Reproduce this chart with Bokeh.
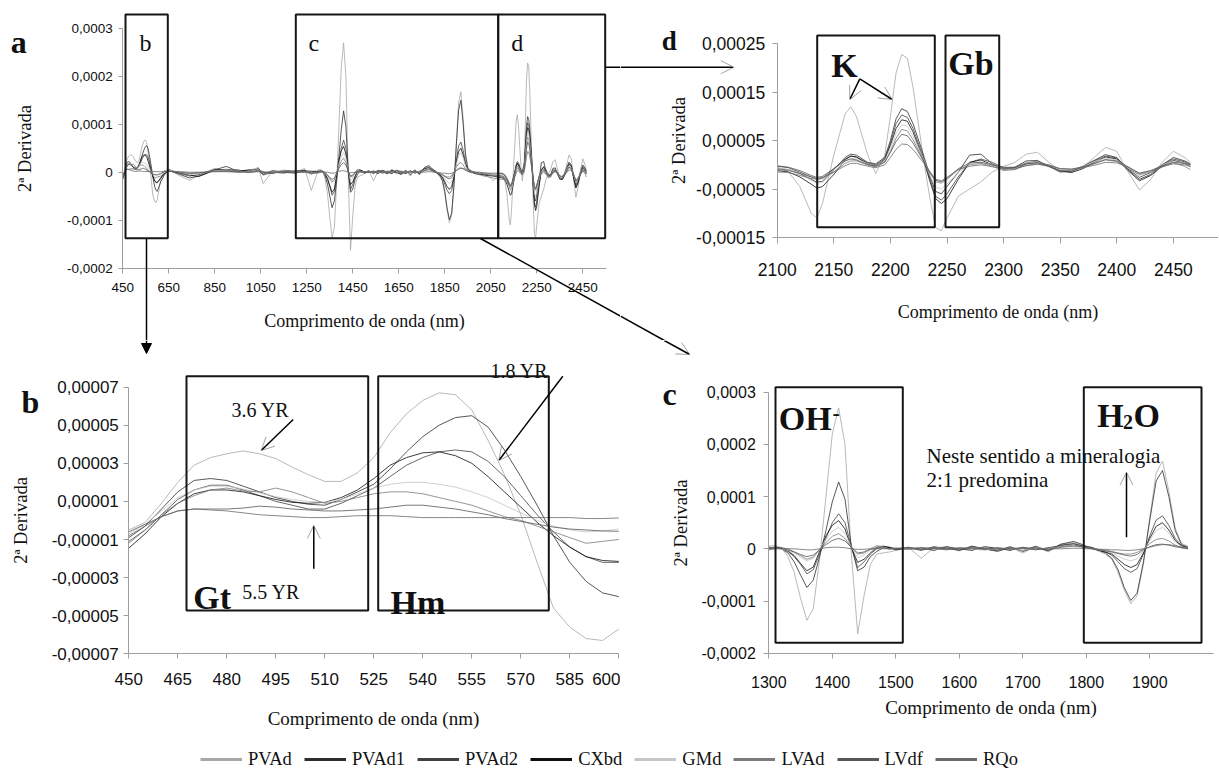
import numpy as np
from bokeh.plotting import figure
from bokeh.layouts import column, row
from bokeh.models import (Range1d, FixedTicker, CustomJSTickFormatter, BoxAnnotation,
                          Label, Arrow, OpenHead, NormalHead, Legend, LegendItem)
from bokeh.embed import file_html
from bokeh.resources import INLINE

# ---------------------------------------------------------------- data
SERIES = ["PVAd", "PVAd1", "PVAd2", "CXbd", "GMd", "LVAd", "LVdf", "RQo"]
SCALE = 1e-5  # all series values below are in units of 1e-5

# wavelengths (nm) of the sampled regions
WL_B = [450, 455, 460, 465, 470, 475, 480, 485, 490, 495, 500, 505, 510, 515, 520, 525,
        530, 535, 540, 545, 550, 555, 560, 565, 570, 575, 580, 585, 590, 595, 600]
WL_G1 = [615, 630, 650, 700, 740, 780, 850, 900, 950, 1000, 1040, 1060, 1100, 1150, 1200, 1240, 1270]
WL_C = [1300, 1310, 1320, 1330, 1340, 1350, 1360, 1370, 1380, 1390, 1400, 1410, 1420, 1430, 1440,
        1450, 1460, 1470, 1480, 1490, 1500,
        1520, 1540, 1560, 1580, 1600, 1620, 1640, 1660, 1680, 1700, 1720, 1740, 1760, 1780,
        1790, 1800, 1810, 1820, 1830, 1840, 1850, 1860, 1870, 1880, 1890, 1900, 1910, 1920,
        1930, 1940, 1950, 1960]
WL_G2 = [1980, 2000, 2020, 2040, 2060, 2080]
WL_D = [2100, 2110, 2120, 2130, 2135, 2140, 2150, 2160, 2165, 2170, 2180, 2187, 2195, 2200,
        2205, 2210, 2215, 2220, 2230, 2235, 2240, 2245, 2250, 2260, 2270, 2280, 2290, 2300,
        2310, 2320, 2330, 2340, 2350, 2360, 2370, 2380, 2390, 2400, 2410, 2420, 2430, 2440,
        2450, 2460, 2465]

# region b (450-600 nm)
PVAD_B = [-0.5, -0.1, 0.9, 2.0, 2.9, 3.3, 3.5, 3.65, 3.5, 3.25, 2.8, 2.4, 2.05, 2.05, 2.5, 3.3,
          4.6, 5.6, 6.3, 6.7, 6.6, 5.8, 4.2, 2.4, 0.3, -2.2, -4.6, -5.6, -6.2, -6.3, -5.7]
PVAD1_B = [-0.9, -0.3, 0.6, 1.5, 2.1, 2.2, 2.1, 1.8, 1.5, 1.2, 1.0, 0.85, 0.8, 1.1, 1.5, 1.9,
           2.7, 3.6, 4.4, 5.0, 5.4, 5.5, 4.9, 3.7, 2.3, 0.8, -0.8, -2.2, -3.2, -3.8, -4.0]
PVAD2_B = [-1.1, -0.5, 0.3, 1.1, 1.6, 1.85, 1.85, 1.6, 1.3, 1.0, 0.8, 0.6, 0.6, 0.9, 1.3, 1.7,
           2.3, 2.9, 3.3, 3.6, 3.7, 3.6, 3.1, 2.3, 1.3, 0.3, -0.6, -1.4, -1.9, -2.2, -2.2]
CXBD_B = [-1.45, -0.7, 0.2, 0.9, 1.4, 1.6, 1.6, 1.5, 1.3, 1.1, 0.95, 0.9, 0.95, 1.2, 1.6, 2.2,
          2.9, 3.3, 3.55, 3.6, 3.4, 3.0, 2.3, 1.5, 0.7, -0.1, -0.8, -1.4, -1.9, -2.1, -2.15]
GMD_B = [-0.7, -0.2, 0.5, 1.2, 1.6, 1.8, 1.8, 1.65, 1.45, 1.25, 1.1, 1.0, 0.95, 1.1, 1.4, 1.7,
         1.9, 2.0, 2.0, 1.9, 1.75, 1.5, 1.2, 0.8, 0.4, 0.0, -0.3, -0.5, -0.6, -0.55, -0.45]
LVAD_B = [-1.2, -0.5, 0.3, 0.9, 1.3, 1.6, 1.7, 1.55, 1.5, 1.7, 1.5, 1.2, 0.9, 1.0, 1.2, 1.4,
          1.5, 1.5, 1.4, 1.2, 1.0, 0.8, 0.5, 0.2, 0.0, -0.3, -0.6, -0.9, -1.2, -1.1, -1.0]
LVDF_B = [-0.6, -0.2, 0.2, 0.5, 0.6, 0.6, 0.6, 0.65, 0.75, 0.7, 0.6, 0.55, 0.5, 0.5, 0.55, 0.6,
          0.7, 0.8, 0.8, 0.7, 0.6, 0.45, 0.3, 0.1, -0.05, -0.2, -0.35, -0.45, -0.5, -0.55, -0.57]
RQO_B = [-0.8, -0.3, 0.2, 0.5, 0.6, 0.55, 0.5, 0.4, 0.3, 0.25, 0.2, 0.15, 0.15, 0.2, 0.25, 0.25,
         0.25, 0.2, 0.15, 0.15, 0.15, 0.15, 0.15, 0.15, 0.15, 0.15, 0.15, 0.15, 0.1, 0.1, 0.13]

# region 600-1300 nm (panel a only)
PVAD_G1 = [-1.5, 0.3, 0.6, -0.8, -1.7, -0.6, 0.8, 0.3, 0.0, 0.4, 1.0, -2.4, 0.2, 0.3, 0.0, 0.8, -3.8]
PVAD1_G1 = [-2.0, -0.6, 0.4, -0.5, -1.2, -0.8, 0.5, 1.2, 0.2, 0.3, 0.6, 0.0, -0.3, 0.4, 0.2, 0.4, -0.4]
PVAD2_G1 = [-1.2, -0.3, 0.3, -0.3, -0.8, -0.5, 0.6, 0.4, 0.5, 0.0, 0.8, -0.6, 0.0, -0.2, 0.3, 0.2, 0.0]
CXBD_G1 = [-1.2, -0.4, 0.5, -0.2, -0.6, -0.9, 0.4, 0.6, 0.2, 0.5, 0.3, -0.4, 0.3, 0.0, -0.2, 0.3, 0.2]
GMD_G1 = [-0.3, 0.2, 0.4, 0.0, -0.5, -0.3, 0.3, 0.5, 0.0, 0.2, 0.5, -0.2, 0.1, 0.3, 0.0, 0.1, 0.3]
LVAD_G1 = [-0.8, -0.2, 0.3, -0.4, -0.3, -0.2, 0.2, 0.3, 0.4, -0.1, 0.4, 0.0, -0.2, 0.2, 0.1, 0.0, -0.3]
LVDF_G1 = [-0.3, 0.1, 0.2, 0.0, -0.2, -0.1, 0.2, 0.2, 0.1, 0.0, 0.2, 0.0, 0.0, 0.1, 0.0, 0.1, 0.0]
RQO_G1 = [0.1, 0.2, 0.2, 0.1, 0.0, 0.0, 0.1, 0.1, 0.0, 0.0, 0.1, 0.0, 0.0, 0.0, 0.0, 0.0, 0.0]

# region c (1300-1960 nm)
PVAD_C = [0.5, 0.6, 0.2, -1.5, -4.5, -9.5, -13.7, -11.5, -2.0, 10.0, 22.0, 27.0, 20.0, -1.0, -16.3,
          -9.0, -3.0, -1.0, -0.8, -0.6, -0.3,
          0.3, -1.8, 0.2, 0.4, -0.4, 0.5, 0.0, -0.4, 0.3, -0.8, 0.4, -0.6, 0.8, 1.2,
          0.8, 0.3, 0.0, -0.5, -1.0, -2.0, -4.5, -8.0, -10.5, -9.0, -3.0, 6.0, 14.5, 16.8,
          11.0, 4.0, 1.0, 0.5]
PVAD1_C = [0.3, 0.2, 0.0, -0.8, -2.5, -5.0, -7.4, -6.0, -1.5, 3.5, 9.0, 12.8, 9.5, 0.5, -4.2,
           -3.5, -1.5, -0.5, 0.2, 0.3, 0.0,
           0.2, -0.3, 0.3, 0.1, -0.3, 0.4, -0.1, -0.3, 0.4, -0.5, 0.3, -0.4, 0.9, 1.4,
           1.0, 0.5, 0.2, -0.3, -0.8, -1.8, -4.0, -7.5, -9.9, -8.5, -2.5, 5.5, 13.0, 15.0,
           10.0, 3.5, 0.8, 0.3]
PVAD2_C = [0.2, 0.3, 0.0, -0.5, -1.5, -3.0, -4.8, -4.0, -1.0, 2.0, 5.0, 6.7, 5.0, 0.5, -3.6,
           -2.5, -1.0, 0.0, 0.5, 0.3, 0.0,
           0.3, -0.2, 0.4, 0.0, -0.2, 0.5, 0.0, -0.5, 0.2, -0.4, 0.5, -0.3, 0.7, 1.0,
           0.7, 0.4, 0.2, -0.2, -0.6, -1.2, -2.5, -3.8, -4.5, -3.8, -1.0, 2.5, 5.5, 6.3,
           4.5, 2.0, 0.6, 0.2]
CXBD_C = [0.0, 0.2, 0.1, -0.4, -1.3, -2.8, -4.2, -3.5, -0.5, 2.5, 4.5, 5.4, 3.8, 0.2, -2.6,
          -2.0, -0.8, 0.3, 0.5, 0.2, -0.2,
          0.1, 0.2, -0.3, 0.4, 0.0, -0.3, 0.4, 0.1, -0.3, 0.3, -0.2, 0.2, 0.6, 0.9,
          0.6, 0.3, 0.0, -0.3, -0.6, -1.0, -2.0, -3.0, -3.6, -3.0, -0.8, 2.0, 4.3, 5.0,
          3.6, 1.6, 0.5, 0.2]
GMD_C = [0.4, 0.1, -0.1, -0.3, -0.8, -1.6, -2.3, -1.8, 0.0, 1.8, 3.4, 4.1, 3.0, 0.3, -1.7,
         -1.2, -0.3, 0.4, 0.3, 0.0, 0.2,
         0.0, 0.3, 0.0, -0.2, 0.3, 0.0, -0.3, 0.3, 0.0, -0.3, 0.2, 0.0, 0.5, 0.8,
         0.5, 0.2, 0.0, -0.2, -0.4, -0.8, -1.4, -2.0, -2.3, -1.9, -0.4, 1.6, 3.5, 4.1,
         3.0, 1.3, 0.4, 0.1]
LVAD_C = [-0.2, 0.0, 0.2, 0.0, -0.6, -1.3, -2.0, -1.6, -0.2, 1.2, 2.4, 2.9, 2.0, 0.2, -1.0,
          -0.8, 0.0, 0.6, 0.4, -0.1, 0.1,
          0.2, -0.1, 0.2, 0.3, -0.1, 0.2, 0.3, -0.2, 0.1, 0.2, -0.1, 0.1, 0.4, 0.7,
          0.5, 0.2, 0.0, -0.1, -0.3, -0.5, -0.8, -1.0, -1.0, -0.7, 0.0, 1.0, 1.8, 2.0,
          1.5, 0.7, 0.2, 0.0]
LVDF_C = [0.1, 0.3, 0.2, -0.2, -0.6, -1.1, -1.5, -1.2, -0.2, 0.8, 1.6, 2.0, 1.5, 0.3, -0.8,
          -0.6, -0.1, 0.2, 0.2, 0.0, 0.1,
          -0.1, 0.2, 0.1, -0.2, 0.2, 0.1, -0.1, 0.2, -0.1, 0.1, 0.2, -0.2, 0.3, 0.5,
          0.4, 0.2, 0.0, -0.2, -0.4, -0.6, -0.9, -1.2, -1.4, -1.1, -0.2, 0.4, 0.8, 0.9,
          0.7, 0.4, 0.2, 0.0]
RQO_C = [0.0, 0.0, 0.0, 0.0, 0.0, -0.1, -0.2, -0.2, 0.0, 0.2, 0.3, 0.3, 0.2, 0.0, -0.1,
         -0.1, 0.0, 0.0, 0.0, 0.0, 0.0,
         0.0, 0.0, 0.0, 0.0, 0.0, 0.0, 0.0, 0.0, 0.0, 0.0, 0.0, 0.0, 0.0, 0.1,
         0.1, 0.0, 0.0, -0.1, -0.1, -0.2, -0.2, -0.3, -0.3, -0.2, 0.0, 0.3, 0.6, 0.8,
         0.8, 0.6, 0.3, 0.1]

# region 1960-2100 nm (panel a only)
PVAD_G2 = [0.0, -0.3, -0.5, -0.8, -1.8, -1.0]
PVAD1_G2 = [-0.2, -0.5, -0.3, -0.6, -0.5, -0.7]
PVAD2_G2 = [0.0, -0.2, -0.4, -0.3, -0.5, -0.4]
CXBD_G2 = [-0.3, -0.4, -0.6, -0.7, -0.8, -1.0]
GMD_G2 = [0.0, -0.3, -0.2, -0.4, -0.5, -0.5]
LVAD_G2 = [-0.2, -0.5, -0.8, -1.0, -1.2, -1.4]
LVDF_G2 = [0.0, 0.0, -0.1, -0.2, -0.2, -0.2]
RQO_G2 = [0.0, -0.2, -0.4, -0.6, -0.7, -0.9]

# region d (2100-2465 nm)
PVAD_D = [-0.5, -1.5, -4.5, -10.0, -11.0, -8.0, 2.0, 10.5, 12.0, 10.0, 2.0, -1.8, 2.0, 10.0,
          19.0, 22.8, 22.0, 16.0, 0.0, -7.0, -13.0, -13.6, -11.0, -6.5, -5.0, -3.5, -1.5, -0.3,
          0.5, 2.2, 2.6, 0.5, -1.2, -1.5, -0.5, 1.5, 3.6, 2.8, -1.5, -5.2, -3.0, 0.5, 2.8, 1.5, 0.5]
PVAD1_D = [-0.8, -1.0, -1.8, -3.0, -3.6, -3.4, -1.0, 1.5, 2.2, 2.0, 0.5, 0.2, 1.5, 5.0,
           9.5, 11.6, 11.0, 8.5, 1.5, -2.5, -5.5, -6.0, -4.5, -1.5, 2.0, 2.2, 0.2, -1.0,
           -0.5, 0.8, 0.9, -0.3, -1.5, -1.3, -0.3, 0.9, 2.1, 1.5, -1.0, -3.0, -2.0, 0.0, 1.5, 0.8, 0.2]
PVAD2_D = [-0.3, -0.6, -1.5, -2.5, -3.0, -2.8, -0.8, 1.2, 1.8, 1.6, 0.3, 0.0, 1.2, 4.5,
           8.5, 10.3, 9.8, 7.5, 1.0, -3.0, -6.5, -7.3, -6.0, -2.5, 0.5, 1.2, 0.5, -0.6,
           -0.6, 0.4, 0.7, -0.2, -1.2, -1.3, -0.4, 0.8, 1.8, 1.4, -0.8, -2.6, -1.6, 0.0, 1.2, 0.6, 0.0]
CXBD_D = [-1.2, -1.5, -2.5, -4.0, -4.8, -4.5, -2.0, 1.0, 1.8, 1.6, 0.2, -0.3, 1.0, 4.0,
          7.5, 9.3, 9.0, 6.8, 0.5, -3.5, -7.0, -8.0, -7.0, -3.0, 0.5, 1.0, 0.0, -0.8,
          -0.9, 0.2, 0.5, -0.3, -1.3, -1.6, -0.8, 0.5, 1.6, 1.2, -1.2, -3.3, -2.2, -0.3, 0.9, 0.3, -0.4]
GMD_D = [-0.6, -1.0, -2.0, -3.2, -3.8, -3.6, -1.5, 0.8, 1.3, 1.2, 0.2, -0.2, 0.9, 3.5,
         6.5, 8.3, 8.0, 6.0, 0.8, -2.2, -4.6, -5.0, -4.0, -1.5, 0.3, 0.6, 0.0, -0.9,
         -0.8, 0.3, 0.6, -0.1, -1.0, -1.1, -0.3, 0.6, 1.4, 1.0, -0.6, -2.2, -1.4, 0.0, 0.7, 0.3, -0.2]
LVAD_D = [-1.5, -1.6, -2.2, -2.8, -3.0, -2.8, -1.5, 0.3, 0.8, 0.8, 0.0, -0.4, 0.5, 2.8,
          5.5, 7.3, 7.0, 5.2, 0.5, -1.8, -3.5, -3.8, -3.0, -1.0, 0.0, 0.3, -0.3, -1.2,
          -1.0, -0.1, 0.2, -0.4, -1.3, -1.2, -0.6, 0.2, 1.0, 0.7, -0.8, -2.0, -1.5, -0.5, 0.4, -0.3, -1.0]
LVDF_D = [-0.2, -0.5, -1.2, -2.2, -2.6, -2.4, -0.8, 0.8, 1.2, 1.0, 0.0, -0.2, 0.6, 2.5,
          4.8, 6.3, 6.0, 4.5, 0.5, -1.5, -3.2, -3.5, -2.8, -0.8, 0.4, 0.5, 0.0, -0.5,
          -0.5, 0.2, 0.4, 0.0, -0.8, -0.9, -0.4, 0.3, 1.1, 0.8, -0.4, -1.8, -1.2, -0.2, 0.5, 0.3, 0.0]
RQO_D = [-1.0, -1.2, -1.8, -2.5, -2.8, -2.6, -1.5, -0.2, 0.3, 0.3, -0.3, -0.6, 0.0, 1.5,
         3.2, 4.3, 4.2, 3.2, 0.2, -1.5, -3.0, -3.3, -2.6, -1.0, -0.3, 0.0, -0.4, -0.8,
         -0.7, -0.2, 0.1, -0.2, -0.8, -0.9, -0.6, -0.1, 0.5, 0.4, -0.5, -1.7, -1.2, -0.4, 0.2, 0.0, -0.3]

REGION_B = [PVAD_B, PVAD1_B, PVAD2_B, CXBD_B, GMD_B, LVAD_B, LVDF_B, RQO_B]
REGION_G1 = [PVAD_G1, PVAD1_G1, PVAD2_G1, CXBD_G1, GMD_G1, LVAD_G1, LVDF_G1, RQO_G1]
REGION_C = [PVAD_C, PVAD1_C, PVAD2_C, CXBD_C, GMD_C, LVAD_C, LVDF_C, RQO_C]
REGION_G2 = [PVAD_G2, PVAD1_G2, PVAD2_G2, CXBD_G2, GMD_G2, LVAD_G2, LVDF_G2, RQO_G2]
REGION_D = [PVAD_D, PVAD1_D, PVAD2_D, CXBD_D, GMD_D, LVAD_D, LVDF_D, RQO_D]

for wl, reg in ((WL_B, REGION_B), (WL_G1, REGION_G1), (WL_C, REGION_C), (WL_G2, REGION_G2), (WL_D, REGION_D)):
    for name, s in zip(SERIES, reg):
        assert len(s) == len(wl), (name, len(s), len(wl))

# ticks
A_XTICKS = [450, 650, 850, 1050, 1250, 1450, 1650, 1850, 2050, 2250, 2450]
A_YTICKS = [-0.0002, -0.0001, 0.0, 0.0001, 0.0002, 0.0003]
A_YLABELS = ["-0,0002", "-0,0001", "0", "0,0001", "0,0002", "0,0003"]
B_XTICKS = [450, 465, 480, 495, 510, 525, 540, 555, 570, 585, 600]
B_YTICKS = [-0.00007, -0.00005, -0.00003, -0.00001, 0.00001, 0.00003, 0.00005, 0.00007]
B_YLABELS = ["-0,00007", "-0,00005", "-0,00003", "-0,00001", "0,00001", "0,00003", "0,00005", "0,00007"]
C_XTICKS = [1300, 1400, 1500, 1600, 1700, 1800, 1900]
C_YTICKS = [-0.0002, -0.0001, 0.0, 0.0001, 0.0002, 0.0003]
C_YLABELS = ["-0,0002", "-0,0001", "0", "0,0001", "0,0002", "0,0003"]
D_XTICKS = [2100, 2150, 2200, 2250, 2300, 2350, 2400, 2450]
D_YTICKS = [-0.00015, -0.00005, 0.00005, 0.00015, 0.00025]
D_YLABELS = ["-0,00015", "-0,00005", "0,00005", "0,00015", "0,00025"]

# ---------------------------------------------------------------- style / layout
COLORS = ["#a8a8a8", "#2e2e2e", "#424242", "#0f0f0f", "#c6c6c6", "#7c7c7c", "#585858", "#6a6a6a"]
SANS = "Liberation Sans"
SERIF = "Liberation Serif"
AXIS_GRAY = "#9e9e9e"
TXT = "#111111"
XTITLE = "Comprimento de onda (nm)"
YTITLE = "2ª Derivada"


class PanelMap:
    """Page-pixel <-> data mapping of one panel (frame covers the whole canvas)."""
    def __init__(self, X0, X1, Y0, Y1, xpx, xval, xstep, ypx, yval, ystep):
        self.X0, self.X1, self.Y0, self.Y1 = X0, X1, Y0, Y1
        self.xpx, self.xval, self.xstep = xpx, xval, xstep
        self.ypx, self.yval, self.ystep = ypx, yval, ystep

    def x(self, X):
        return self.xval + (X - self.xpx) * self.xstep

    def y(self, Y):
        return self.yval - (Y - self.ypx) * self.ystep


MA = PanelMap(0, 620, 0, 340, 122.3, 450, 200 / 46, 171.7, 0.0, 1e-4 / 47.9)
MD = PanelMap(620, 1218, 0, 340, 776.7, 2100, 50 / 56.6, 43.3, 0.00025, 1e-4 / 48.4)
MB = PanelMap(0, 620, 340, 732, 128.3, 450, 15 / 49, 653.3, -0.00007, 2e-5 / 38.1)
MC = PanelMap(620, 1218, 340, 732, 768.3, 1300, 100 / 63.5, 548.3, 0.0, 1e-4 / 52.2)


def make_fig(m):
    p = figure(width=m.X1 - m.X0, height=m.Y1 - m.Y0,
               x_range=Range1d(m.x(m.X0), m.x(m.X1)), y_range=Range1d(m.y(m.Y1), m.y(m.Y0)),
               output_backend="svg", toolbar_location=None, min_border=0)
    p.outline_line_color = None
    p.grid.visible = False
    p.background_fill_color = "white"
    p.border_fill_color = "white"
    return p


def style_axes(p, xticks, yticks, ylabels, xbounds, ybounds, tick_px, xt_px, yt_px,
               x_tick_out, x_lab_so, x_title_so, y_tick_out, y_lab_so, y_title_so):
    xa, ya = p.xaxis[0], p.yaxis[0]
    xa.fixed_location = ybounds[0]
    ya.fixed_location = xbounds[0]
    xa.bounds = xbounds
    ya.bounds = ybounds
    xa.ticker = FixedTicker(ticks=xticks)
    ya.ticker = FixedTicker(ticks=yticks)
    ya.formatter = CustomJSTickFormatter(
        args=dict(tvals=yticks, tlabels=ylabels),
        code="for (let i = 0; i < tvals.length; i++) {"
             " if (Math.abs(tvals[i] - tick) < 1e-12) return tlabels[i]; } return '';")
    for ax in (xa, ya):
        ax.axis_line_color = AXIS_GRAY
        ax.major_tick_line_color = AXIS_GRAY
        ax.minor_tick_line_color = None
        ax.major_tick_in = 0
        ax.major_label_text_font = SANS
        ax.major_label_text_font_size = tick_px
        ax.major_label_text_color = TXT
        ax.axis_label_text_font = SERIF
        ax.axis_label_text_font_style = "normal"
        ax.axis_label_text_color = TXT
    xa.axis_label = XTITLE
    ya.axis_label = YTITLE
    xa.axis_label_text_font_size = xt_px
    ya.axis_label_text_font_size = yt_px
    xa.major_tick_out = x_tick_out
    xa.major_label_standoff = x_lab_so
    xa.axis_label_standoff = x_title_so
    ya.major_tick_out = y_tick_out
    ya.major_label_standoff = y_lab_so
    ya.axis_label_standoff = y_title_so


def draw_series(p, wl, region):
    for name, vals, col in zip(SERIES, region, COLORS):
        p.line(wl, np.array(vals) * SCALE, line_color=col, line_width=1, line_alpha=0.8)


def box(p, m, X0, X1, Y0, Y1):
    p.add_layout(BoxAnnotation(left=m.x(X0), right=m.x(X1), bottom=m.y(Y1), top=m.y(Y0),
                               fill_color=None, line_color="#151515", line_width=2, line_alpha=1))


def label(p, m, X, Y, text, size, bold=False, align="left"):
    p.add_layout(Label(x=m.x(X), y=m.y(Y), text=text, text_font=SERIF, text_font_size=size,
                       text_font_style="bold" if bold else "normal",
                       text_align=align, text_baseline="alphabetic", text_color=TXT))


def seg(p, m, X0, Y0, X1, Y1, head=None, color="black", width=1.5):
    p.add_layout(Arrow(x_start=m.x(X0), y_start=m.y(Y0), x_end=m.x(X1), y_end=m.y(Y1),
                       end=head, line_color=color, line_width=width))


def open_head():
    return OpenHead(size=13, line_color="#8a8a8a", line_width=0.8)


# ---------------------------------------------------------------- panel a
pa = make_fig(MA)
style_axes(pa, A_XTICKS, A_YTICKS, A_YLABELS, (450, 2552), (-0.0002, 0.0003),
           "13.5px", "18px", "18.5px", 5, 10, 15, 4, 6, 29)
WL_ALL = WL_B + WL_G1 + WL_C + WL_G2 + WL_D
REGION_ALL = [b + g1 + c + g2 + d for b, g1, c, g2, d in
              zip(REGION_B, REGION_G1, REGION_C, REGION_G2, REGION_D)]
draw_series(pa, WL_ALL, REGION_ALL)
box(pa, MA, 125, 167.3, 14, 237.7)
box(pa, MA, 295.3, 497.7, 14, 237.7)
box(pa, MA, 497.7, 604.7, 14, 237.7)
label(pa, MA, 145, 42.7, "b", "24px", align="center")
label(pa, MA, 313.3, 42.7, "c", "24px", align="center")
label(pa, MA, 516.7, 42.7, "d", "24px", align="center")
label(pa, MA, 18.3, 41.7, "a", "32px", bold=True, align="center")
seg(pa, MA, 146, 237.7, 146, 340)              # towards b
seg(pa, MA, 480, 238, 620, 315.7)              # towards c
seg(pa, MA, 604.7, 66.7, 620, 66.7)            # towards d

# ---------------------------------------------------------------- panel d
pd_ = make_fig(MD)
style_axes(pd_, D_XTICKS, D_YTICKS, D_YLABELS, (2100, MD.x(1218)), (-0.00015, 0.00025),
           "17.5px", "18px", "18.5px", 6, 20, 22, 5, 7, 4)
draw_series(pd_, WL_D, REGION_D)
box(pd_, MD, 816.7, 934.3, 35, 226.7)
box(pd_, MD, 945, 998.7, 35, 226.7)
label(pd_, MD, 830.7, 65, "K", "34px", bold=True)
label(pd_, MD, 947.7, 63.3, "Gb", "34px", bold=True)
seg(pd_, MD, 859.3, 78.3, 849.3, 99, head=open_head())
seg(pd_, MD, 859.3, 78.3, 891.7, 99, head=open_head())
label(pd_, MD, 668.8, 40.7, "d", "27px", bold=True, align="center")
seg(pd_, MD, 620, 66.7, 733.3, 66.7, head=open_head())
seg(pd_, MD, 620, 315.7, 663.8, 340)

# ---------------------------------------------------------------- panel b
pb = make_fig(MB)
style_axes(pb, B_XTICKS, B_YTICKS, B_YLABELS, (450, 600), (-0.00007, 0.00007),
           "17px", "19px", "18.5px", 5, 14, 20, 5, 5, 17)
draw_series(pb, WL_B, REGION_B)
box(pb, MB, 186, 367.7, 375.7, 610)
box(pb, MB, 377.7, 548.3, 375.7, 610)
label(pb, MB, 192.7, 596.7, "Gt", "34px", bold=True)
label(pb, MB, 241.7, 591.7, "5.5 YR", "20px")
label(pb, MB, 390, 601.7, "Hm", "34px", bold=True)
label(pb, MB, 231, 409, "3.6 YR", "20px")
label(pb, MB, 490, 370.7, "1.8 YR", "20px")
seg(pb, MB, 292.7, 419, 260.7, 450, head=open_head())
seg(pb, MB, 313.3, 568.3, 313.3, 525, head=open_head())
seg(pb, MB, 562.3, 375.7, 498.3, 460, head=open_head())
label(pb, MB, 30, 401.7, "b", "32px", bold=True, align="center")
seg(pb, MB, 146, 340, 146, 353, head=NormalHead(size=10, fill_color="black", line_color="black"))

# ---------------------------------------------------------------- panel c
pc = make_fig(MC)
style_axes(pc, C_XTICKS, C_YTICKS, C_YLABELS, (1300, 2000), (-0.0002, 0.0003),
           "16px", "19px", "18.5px", 5, 18, 5, 5, 8, 7)
draw_series(pc, WL_C, REGION_C)
box(pc, MC, 775, 902.3, 386.7, 642.3)
box(pc, MC, 1083.3, 1201, 386.7, 642.3)
label(pc, MC, 778.3, 418.3, "OH", "34px", bold=True)
label(pc, MC, 832, 412, "-", "22px", bold=True)
label(pc, MC, 1096.7, 415, "H", "34px", bold=True)
label(pc, MC, 1122.5, 421.7, "2", "20px", bold=True)
label(pc, MC, 1133, 415, "O", "34px", bold=True)
label(pc, MC, 926, 455, "Neste sentido a mineralogia", "21px")
label(pc, MC, 926, 479.3, "2:1 predomina", "21px")
seg(pc, MC, 1126, 536.7, 1126, 471.7, head=open_head())
label(pc, MC, 669, 393.3, "c", "32px", bold=True, align="center")
seg(pc, MC, 663.8, 340, 689.3, 354, head=open_head())

# ---------------------------------------------------------------- legend row
pl = figure(width=1218, height=38, x_range=Range1d(0, 1), y_range=Range1d(0, 1),
            x_axis_type=None, y_axis_type=None, output_backend="svg", toolbar_location=None,
            min_border=0)
pl.outline_line_color = None
pl.grid.visible = False
items = []
for name, col in zip(SERIES, COLORS):
    r = pl.line(x=[-10, -9], y=[-10, -10], line_color=col, line_width=3)
    items.append(LegendItem(label=name, renderers=[r]))
leg = Legend(items=items, orientation="horizontal", location=(200, 0),
             label_text_font=SERIF, label_text_font_size="18.5px", label_text_color=TXT,
             glyph_width=42, glyph_height=22, label_height=22, label_standoff=6, spacing=12,
             padding=0, margin=0, border_line_color=None, background_fill_alpha=0)
pl.add_layout(leg)

layout = column(row(pa, pd_), row(pb, pc), pl)
open("out.html", "w").write(file_html(layout, INLINE))
